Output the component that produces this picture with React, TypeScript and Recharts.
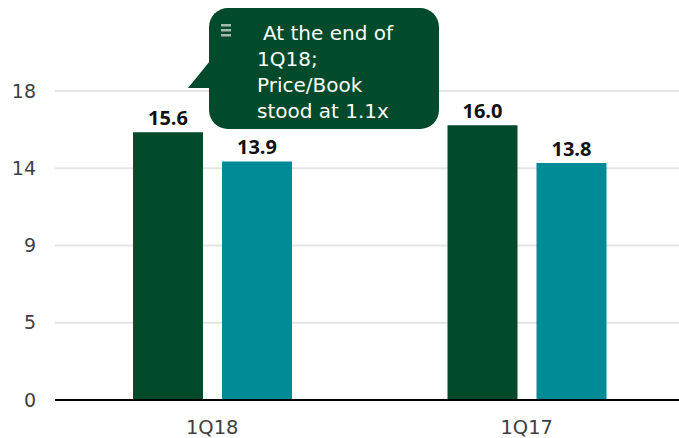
import { Bar, BarChart, CartesianGrid, LabelList, XAxis, YAxis } from "recharts";

const quarters = ["1Q18", "1Q17"];
const peValues = [15.6, 16.0];
const peerValues = [13.9, 13.8];
const yTicks = [0, 4.5, 9, 13.5, 18];
const noteLines = ["At the end of", "1Q18;", "Price/Book", "stood at 1.1x"];

const data = quarters.map((q, i) => ({ name: q, pe: peValues[i], peer: peerValues[i] }));

const DARK = "#024a2c";
const TEAL = "#008b96";
const tickFont = "DejaVu Sans";

// speech bubble that sits over the top of the chart
function Note() {
    return (
        <svg width={679} height={438} style={{ position: "absolute", left: 0, top: 0, pointerEvents: "none" }}>
            <polygon points="188,88 214,56 214,88" fill={DARK} />
            <rect x={209} y={8} width={230} height={121} rx={19} fill={DARK} />
            <rect x={221} y={24} width={10} height={2.5} fill="#a8b8ae" />
            <rect x={221} y={29} width={10} height={2.5} fill="#a8b8ae" />
            <rect x={221} y={34} width={10} height={2.5} fill="#a8b8ae" />
            {noteLines.map((t, i) => (
                <text key={t} x={i === 0 ? 263 : 257} y={40 + i * 26} fill="#ffffff" fontSize={20} fontFamily={tickFont}>
                    {t}
                </text>
            ))}
        </svg>
    );
}

export default function App() {
    return (
        <div style={{ position: "absolute", left: 0, top: 0, width: 679, height: 438, overflow: "hidden", background: "#fff" }}>
            {/* plot area ends at the 18 line; value labels sit above it */}
            <BarChart
                width={684}
                height={438}
                data={data}
                margin={{ top: 91, right: 0, left: 0, bottom: 0 }}
                barSize={70}
                barGap={19}
            >
                <CartesianGrid vertical={false} stroke="#e4e4e4" strokeWidth={2} />
                <XAxis
                    dataKey="name"
                    height={38}
                    tickLine={false}
                    axisLine={{ stroke: "#000", strokeWidth: 2 }}
                    tick={{ fill: "#404040", fontSize: 19.5, fontFamily: tickFont }}
                    tickMargin={14}
                />
                <YAxis
                    width={55}
                    domain={[0, 18]}
                    ticks={yTicks}
                    tickFormatter={(v: number) => String(Math.round(v))}
                    axisLine={false}
                    tickLine={false}
                    tickSize={0}
                    tickMargin={19}
                    tick={{ fill: "#404040", fontSize: 19, fontFamily: tickFont }}
                />
                <Bar dataKey="pe" fill={DARK} isAnimationActive={false}>
                    <LabelList
                        dataKey="pe"
                        position="top"
                        offset={7}
                        formatter={(v: any) => Number(v).toFixed(1)}
                        style={{ fill: "#111", fontSize: 20, fontWeight: 700, fontFamily: "Open Sans" }}
                    />
                </Bar>
                <Bar dataKey="peer" fill={TEAL} isAnimationActive={false}>
                    <LabelList
                        dataKey="peer"
                        position="top"
                        offset={7}
                        formatter={(v: any) => Number(v).toFixed(1)}
                        style={{ fill: "#111", fontSize: 20, fontWeight: 700, fontFamily: "Open Sans" }}
                    />
                </Bar>
            </BarChart>
            <Note />
        </div>
    );
}
